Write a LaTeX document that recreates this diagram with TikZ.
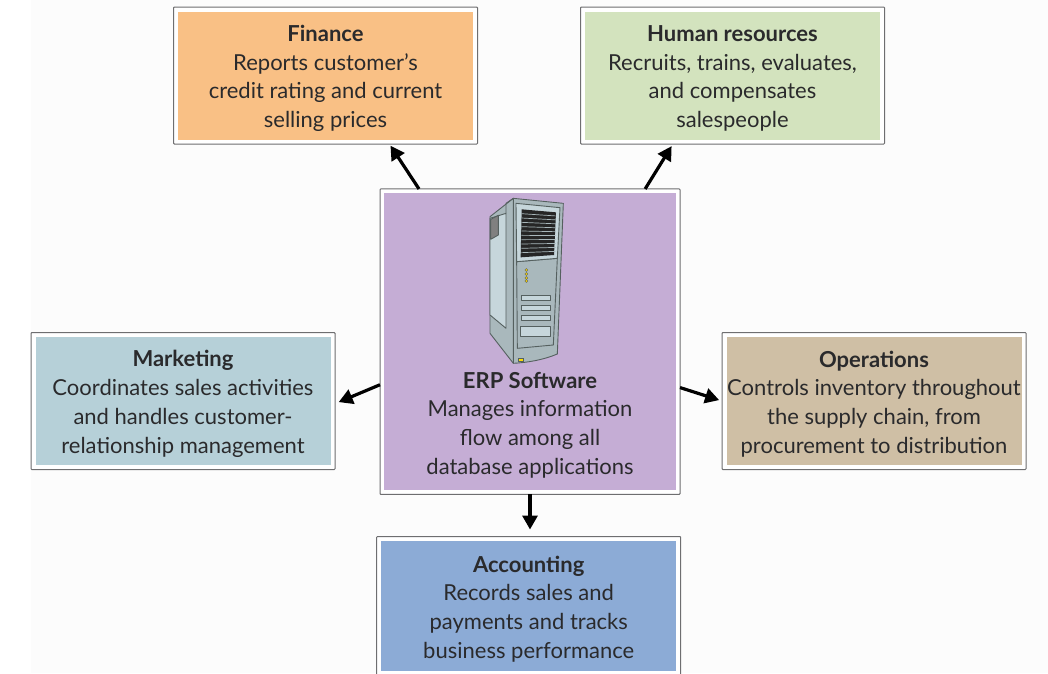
\documentclass[tikz,border=0pt]{standalone}
\usepackage{fontspec}
\setmainfont{Lato}
\usepackage{tikz}
\usetikzlibrary{arrows.meta}
\usepackage{xcolor}

\definecolor{financeorange}{HTML}{F9C085}
\definecolor{hrgreen}{HTML}{D3E3BE}
\definecolor{erppurple}{HTML}{C5ADD5}
\definecolor{marketingblue}{HTML}{B6D0D8}
\definecolor{opstan}{HTML}{CFBFA5}
\definecolor{accountingblue}{HTML}{8CABD6}
\definecolor{framegray}{HTML}{6E6E70}
\definecolor{inktext}{HTML}{2A2A2C}
\definecolor{serverlight}{HTML}{C6D6DB}
\definecolor{servermid}{HTML}{A9B8BC}
\definecolor{serverline}{HTML}{55605F}

\newcommand{\panelhead}[1]{\rule{0pt}{22pt}\textbf{#1}}

\tikzset{
    frame/.style={draw=framegray, line width=1pt, fill=white, inner sep=0pt, outer sep=0pt,
        rounded corners=0.8pt, minimum width=304pt, minimum height=137pt},
    panel/.style={text=inktext, align=center, font=\fontsize{22}{28.7}\selectfont, inner sep=0pt,
        minimum width=295pt, minimum height=128pt},
    flow/.style={-{Triangle[length=14pt,width=15pt]}, line width=3.2pt, black, shorten >=3pt},
    chassis/.style={draw=serverline, line width=0.9pt, line join=round}
}

\begin{document}
\begin{tikzpicture}[x=1pt, y=-1pt]
    \useasboundingbox (0,0) rectangle (1048,673);
    \fill[white] (0,0) rectangle (1048,673);
    \fill[black!1] (31,0) rectangle (1048,673);

    % Draw the department boxes
    \node[frame] (finance) at (325.5,75.5) {};
    \node[panel, fill=financeorange] (financetext) at (finance) {\panelhead{Finance}\\Reports customer’s\\credit rating and current\\selling prices};
    \node[frame] (hr) at (732.5,75.5) {};
    \node[panel, fill=hrgreen] (hrtext) at (hr) {\panelhead{Human resources}\\Recruits, trains, evaluates,\\and compensates\\salespeople};
    \node[frame] (marketing) at (183,401) {};
    \node[panel, fill=marketingblue] (marketingtext) at (marketing) {\panelhead{Marketing}\\Coordinates sales activities\\and handles customer-\\relationship management};
    \node[frame] (operations) at (874,401) {};
    \node[panel, fill=opstan] (operationstext) at (operations) {\panelhead{Operations}\\Controls inventory throughout\\the supply chain, from\\procurement to distribution};
    \node[frame, minimum height=139pt] (accounting) at (528.7,606) {};
    \node[panel, fill=accountingblue, minimum height=130pt] (accountingtext) at (accounting) {\panelhead{Accounting}\\Records sales and\\payments and tracks\\business performance};

    % Draw the central box, text set low to leave room for the server
    \node[frame, minimum width=300pt, minimum height=305.5pt] (erp) at (530,341.7) {};
    \node[panel, fill=erppurple, minimum width=292pt, minimum height=297pt] (erpfill) at (erp) {};
    \node[text=inktext, align=center, font=\fontsize{22}{28.7}\selectfont, inner sep=0pt] (erptext) at (530,422) {\panelhead{ERP Software}\\Manages information\\flow among all\\database applications};

    % Draw the arrows
    \draw[flow, shorten >=2pt] (erp.126.3) -- (finance.-47.2);
    \draw[flow, shorten >=2.5pt] (erp.53.5) -- (hr.229.5);
    \draw[flow, shorten >=4pt] (erp.196.5) -- (marketing.-1.1);
    \draw[flow] (erp.-17.3) -- (operations.180.8);
    \draw[flow, shorten >=7pt] (erp.south) -- (erp.south |- accounting.north);

    % Draw the server
    \begin{scope}[shift={(470,180)}, x=0.3333pt, y=-0.3333pt]
        \draw[chassis, fill=servermid] (60,110) -- (130,55) -- (280,70) -- (262,522) .. controls (220,540) and (170,548) .. (130,550) -- (60,460) -- cycle;
        \draw[chassis, fill=serverlight] (60,115) -- (108,100) -- (108,445) -- (60,405) -- cycle;
        \draw[chassis, fill=black!50] (62,118) -- (85,106) -- (85,165) -- (62,178) -- cycle;
        \draw[chassis] (108,100) -- (108,70) -- (130,55) -- (130,550);
        \draw[chassis, fill=servermid] (140,245) -- (262,235) -- (250,495) -- (142,505) -- cycle;
        \draw[chassis, fill=serverlight] (138,70) -- (270,83) -- (262,235) -- (140,245) -- cycle;
        \fill[black!85] (155,88) -- (258,97) -- (252,225) -- (152,232) -- cycle;
        \foreach \i in {1,...,10}
            \draw[servermid, line width=0.7pt] (154,88+\i*13) -- (257,96+\i*11.8);
        \foreach \i in {270,282,294,303}
            \draw[serverline, fill=yellow!70!orange, line width=0.4pt] (169,\i) circle (4.5);
        \draw[chassis, fill=serverlight] (155,345) rectangle (242,361);
        \draw[chassis, fill=serverlight] (155,376) rectangle (241,392);
        \draw[chassis, fill=serverlight] (155,407) rectangle (241,422);
        \draw[chassis, fill=serverlight] (152,440) rectangle (242,468);
        \draw[serverline, fill=yellow!80!orange, line width=0.6pt] (144,534) rectangle (160,545);
    \end{scope}
\end{tikzpicture}
\end{document}
